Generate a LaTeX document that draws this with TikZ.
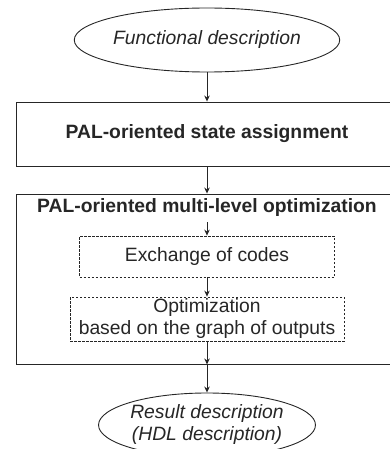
\documentclass[tikz,border=0pt]{standalone}
\usepackage{fontspec}
\setmainfont{Liberation Sans}
\usetikzlibrary{shapes.geometric,arrows.meta}
\begin{document}
\begin{tikzpicture}[x=1pt,y=-1pt,
  line width=0.9pt,
  every node/.style={font=\fontsize{19.3}{22}\selectfont, text=black!85},
  ell/.style={draw=black!85, ellipse, minimum width=211pt, minimum height=64pt, inner sep=0pt, font=\fontsize{19.3}{22}\selectfont\itshape, align=center},
  solidbox/.style={draw=black!85, rectangle, minimum width=382pt, inner sep=0pt},
  dbox/.style={draw=black!85, dash pattern=on 2.5pt off 1.5pt, rectangle, inner sep=0pt, align=center, line width=0.8pt},
  arr/.style={draw=black!85, -{Stealth[length=6pt,width=5.5pt]}}
]
\useasboundingbox (0,0) rectangle (390,449);
\clip (0,0) rectangle (390,449);
\node[ell] (fd) at (207,40) {Functional description};
\node[solidbox, minimum height=64pt, font=\fontsize{19.3}{22}\selectfont\bfseries] (b1) at (207,134) {PAL-oriented state assignment};
\node[solidbox, minimum height=170pt] (b2) at (207,279) {};
\node[font=\fontsize{19.3}{22}\selectfont\bfseries, inner sep=0pt] (t2) at (207,208) {PAL-oriented multi-level optimization};
\coordinate (t1) at (207,222);
\node[dbox, minimum width=255pt, minimum height=41pt] (d1) at (207,256.5) {Exchange of codes};
\node[dbox, minimum width=274pt, minimum height=44pt] (d2) at (207,319) {Optimization\\based on the graph of outputs};
\node[ell, align=center] (re) at (207,425) {Result description\\(HDL description)};
\draw[arr] (fd) -- (b1);
\draw[arr] (b1) -- (b2);
\draw[arr] (t1) -- (d1.north);
\draw[arr] (d1) -- (d2);
\draw[arr] (d2.south) -- (b2.south);
\draw[arr] (b2.south) -- (re.north);
\end{tikzpicture}
\end{document}
